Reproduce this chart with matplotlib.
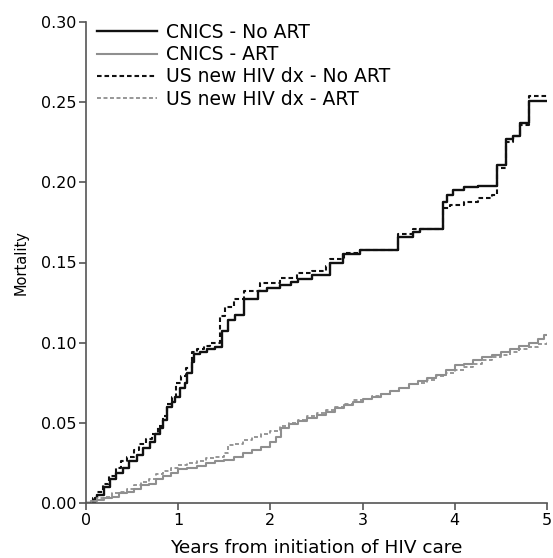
import matplotlib.pyplot as plt

# CNICS - No ART (step points: years, cumulative mortality)
nart_t = [0, 0.10, 0.12, 0.19, 0.26, 0.33, 0.40, 0.47, 0.55, 0.62, 0.69, 0.75, 0.80, 0.84, 0.88,
          0.93, 0.97, 1.02, 1.07, 1.10, 1.15, 1.17, 1.24, 1.31, 1.40, 1.47, 1.54, 1.62, 1.71, 1.87,
          1.96, 2.10, 2.22, 2.30, 2.45, 2.65, 2.79, 2.97, 3.38, 3.55, 3.62, 3.87, 3.92, 3.98, 4.10,
          4.25, 4.46, 4.55, 4.63, 4.71, 4.80, 5.00]
nart_m = [0, 0.003, 0.005, 0.010, 0.015, 0.019, 0.022, 0.026, 0.030, 0.034, 0.038, 0.043, 0.047, 0.052, 0.060,
          0.063, 0.066, 0.072, 0.075, 0.081, 0.088, 0.093, 0.094, 0.096, 0.0975, 0.107, 0.114, 0.117, 0.127, 0.132,
          0.134, 0.136, 0.138, 0.140, 0.142, 0.150, 0.155, 0.158, 0.166, 0.169, 0.171, 0.188, 0.192, 0.195, 0.197,
          0.198, 0.211, 0.227, 0.229, 0.237, 0.251, 0.251]

# US new HIV dx - No ART
us_nart_t = [0, 0.08, 0.12, 0.18, 0.25, 0.32, 0.38, 0.45, 0.52, 0.58, 0.65, 0.72, 0.78, 0.83, 0.88,
             0.93, 0.98, 1.03, 1.08, 1.15, 1.20, 1.28, 1.35, 1.45, 1.51, 1.60, 1.71, 1.89, 2.10, 2.29,
             2.45, 2.60, 2.65, 2.80, 2.97, 3.38, 3.55, 3.87, 3.95, 4.10, 4.25, 4.40, 4.46, 4.55, 4.63,
             4.71, 4.80, 5.00]
us_nart_m = [0, 0.003, 0.007, 0.012, 0.017, 0.022, 0.026, 0.029, 0.033, 0.037, 0.040, 0.043, 0.048, 0.054, 0.062,
             0.066, 0.075, 0.079, 0.084, 0.094, 0.096, 0.098, 0.100, 0.1165, 0.1225, 0.127, 0.132, 0.1375, 0.1405, 0.1435,
             0.145, 0.148, 0.152, 0.156, 0.158, 0.168, 0.171, 0.184, 0.186, 0.188, 0.190, 0.192, 0.209, 0.225, 0.229,
             0.236, 0.254, 0.254]

# CNICS - ART
art_t = [0, 0.05, 0.12, 0.20, 0.28, 0.36, 0.44, 0.52, 0.60, 0.68, 0.76, 0.84, 0.92, 1.00, 1.10,
         1.20, 1.30, 1.40, 1.50, 1.60, 1.70, 1.80, 1.90, 2.00, 2.06, 2.12, 2.20, 2.30, 2.40, 2.50,
         2.60, 2.70, 2.80, 2.90, 3.00, 3.10, 3.20, 3.30, 3.40, 3.50, 3.60, 3.70, 3.80, 3.90, 4.00,
         4.10, 4.20, 4.30, 4.40, 4.50, 4.60, 4.70, 4.80, 4.90, 4.97, 5.00]
art_m = [0, 0.001, 0.002, 0.003, 0.004, 0.006, 0.007, 0.009, 0.011, 0.012, 0.015, 0.017, 0.019, 0.021, 0.022,
         0.023, 0.025, 0.026, 0.027, 0.029, 0.031, 0.033, 0.035, 0.038, 0.041, 0.047, 0.049, 0.051, 0.053, 0.055,
         0.057, 0.059, 0.061, 0.063, 0.065, 0.066, 0.068, 0.070, 0.072, 0.074, 0.076, 0.078, 0.080, 0.083, 0.086,
         0.087, 0.089, 0.091, 0.092, 0.094, 0.096, 0.098, 0.100, 0.102, 0.105, 0.105]

# US new HIV dx - ART
us_art_t = [0, 0.05, 0.12, 0.20, 0.28, 0.36, 0.44, 0.52, 0.60, 0.68, 0.76, 0.84, 0.92, 1.00, 1.10,
            1.20, 1.30, 1.40, 1.50, 1.54, 1.60, 1.70, 1.80, 1.90, 2.00, 2.10, 2.20, 2.30, 2.40, 2.50,
            2.60, 2.70, 2.80, 2.90, 3.00, 3.10, 3.20, 3.30, 3.40, 3.50, 3.60, 3.70, 3.80, 3.90, 4.00,
            4.10, 4.20, 4.30, 4.40, 4.50, 4.60, 4.70, 4.80, 4.90, 5.00]
us_art_m = [0, 0.001, 0.003, 0.004, 0.006, 0.007, 0.009, 0.011, 0.013, 0.015, 0.018, 0.020, 0.022, 0.024, 0.025,
            0.026, 0.028, 0.029, 0.031, 0.036, 0.037, 0.039, 0.041, 0.043, 0.045, 0.048, 0.050, 0.052, 0.054, 0.056,
            0.058, 0.060, 0.062, 0.064, 0.065, 0.067, 0.068, 0.070, 0.072, 0.074, 0.075, 0.077, 0.079, 0.081, 0.083,
            0.085, 0.087, 0.089, 0.091, 0.092, 0.094, 0.096, 0.097, 0.099, 0.101]

labels = ['CNICS - No ART', 'CNICS - ART', 'US new HIV dx - No ART', 'US new HIV dx - ART']

fig = plt.figure(figsize=(5.53, 5.58), dpi=100)
ax = fig.add_axes([86 / 553, 1 - 503 / 558, 461 / 553, 481 / 558])

black = '#111111'
grey = '#8f8f8f'
dash = (0, (2.2, 1.4))

ax.step(nart_t, nart_m, where='post', color=black, lw=1.7, label=labels[0])
ax.step(art_t, art_m, where='post', color=grey, lw=1.5, label=labels[1])
ax.step(us_nart_t, us_nart_m, where='post', color=black, lw=1.5, ls=dash, label=labels[2])
ax.step(us_art_t, us_art_m, where='post', color=grey, lw=1.3, ls=dash, label=labels[3])

ax.set_xlim(0, 5)
ax.set_ylim(0, 0.30)
ax.set_xticks([0, 1, 2, 3, 4, 5])
ax.set_yticks([0, 0.05, 0.10, 0.15, 0.20, 0.25, 0.30])
ax.set_yticklabels(['0.00', '0.05', '0.10', '0.15', '0.20', '0.25', '0.30'])

for s in ['top', 'right']:
    ax.spines[s].set_visible(False)
for s in ['left', 'bottom']:
    ax.spines[s].set_color('#555555')
    ax.spines[s].set_linewidth(1.2)
ax.tick_params(direction='out', length=5, width=1.2, color='#555555', labelsize=11.5, pad=2)

ax.set_xlabel('Years from initiation of HIV care', fontsize=13.3, labelpad=8)
ax.set_ylabel('Mortality', fontsize=10.5, labelpad=9)

ax.legend(loc='upper left', bbox_to_anchor=(97 / 553, 1 - 23 / 558), bbox_transform=fig.transFigure,
          frameon=False, fontsize=13.5, handlelength=3.2, handletextpad=0.5, labelspacing=0.17,
          borderpad=0, borderaxespad=0)

plt.savefig('out.png', dpi=100)
